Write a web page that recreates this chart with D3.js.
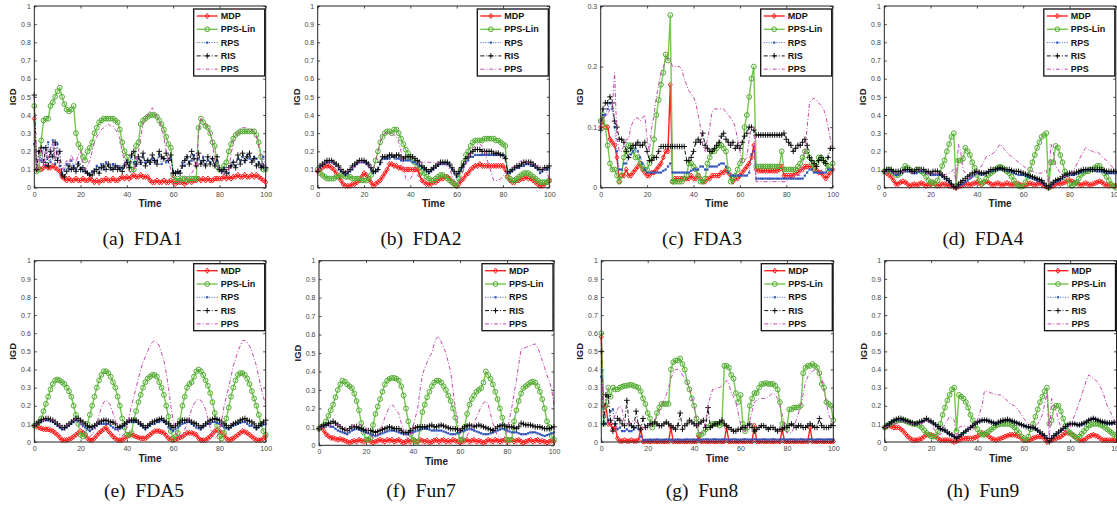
<!DOCTYPE html>
<html><head><meta charset="utf-8">
<script src="https://cdn.jsdelivr.net/npm/d3@7"></script>
<style>
html,body{margin:0;padding:0;background:#fff;}
svg{display:block;}
.cap{font-family:"Liberation Serif","Times New Roman","DejaVu Serif",serif;font-size:19.5px;fill:#111;white-space:pre;}
</style></head><body>
<svg id="chart" width="1117" height="508"></svg>
<script>
// ---------------- DATA ----------------
const seriesNames = ["MDP","PPS-Lin","RPS","RIS","PPS"];
const xTicks = [0,20,40,60,80,100];
const yTicksFull = [0,0.1,0.2,0.3,0.4,0.5,0.6,0.7,0.8,0.9,1];
const yTicksSmall = [0,0.1,0.2,0.3];
const captions = ["(a)  FDA1","(b)  FDA2","(c)  FDA3","(d)  FDA4","(e)  FDA5","(f)  Fun7","(g)  Fun8","(h)  Fun9"];

// FDA1
const fda1_MDP=[0.38,0.10,0.11,0.10,0.11,0.12,0.11,0.11,0.12,0.11,0.10,0.09,0.06,0.05,0.04,0.05,0.04,0.04,0.05,0.04,0.04,0.05,0.04,0.04,0.05,0.04,0.03,0.04,0.03,0.04,0.04,0.05,0.04,0.04,0.05,0.04,0.04,0.05,0.06,0.05,0.06,0.05,0.06,0.07,0.06,0.06,0.07,0.06,0.06,0.06,0.04,0.03,0.03,0.04,0.03,0.03,0.04,0.03,0.03,0.04,0.03,0.02,0.03,0.03,0.03,0.02,0.03,0.04,0.03,0.04,0.04,0.05,0.04,0.05,0.04,0.05,0.04,0.04,0.05,0.05,0.05,0.05,0.06,0.05,0.06,0.05,0.06,0.06,0.07,0.06,0.06,0.07,0.06,0.06,0.07,0.06,0.07,0.06,0.05,0.04,0.03];
const fda1_PPSLin=[0.45,0.09,0.10,0.26,0.37,0.38,0.38,0.45,0.47,0.50,0.53,0.55,0.50,0.46,0.43,0.42,0.43,0.45,0.30,0.24,0.22,0.17,0.15,0.20,0.22,0.25,0.30,0.33,0.36,0.37,0.38,0.38,0.38,0.38,0.38,0.37,0.36,0.32,0.25,0.20,0.17,0.14,0.10,0.10,0.23,0.25,0.35,0.37,0.38,0.39,0.40,0.40,0.40,0.39,0.37,0.35,0.32,0.28,0.24,0.22,0.07,0.04,0.05,0.04,0.05,0.05,0.04,0.05,0.05,0.05,0.05,0.33,0.38,0.36,0.34,0.33,0.30,0.25,0.23,0.12,0.10,0.10,0.12,0.14,0.20,0.24,0.27,0.29,0.30,0.31,0.31,0.31,0.31,0.31,0.31,0.31,0.29,0.25,0.17,0.10,0.10];
const fda1_RPS=[0.24,0.10,0.20,0.15,0.22,0.12,0.25,0.14,0.26,0.13,0.24,0.12,0.08,0.10,0.13,0.10,0.15,0.12,0.10,0.14,0.11,0.09,0.10,0.08,0.07,0.09,0.10,0.12,0.11,0.13,0.10,0.14,0.12,0.10,0.13,0.11,0.12,0.10,0.11,0.13,0.15,0.12,0.17,0.14,0.12,0.16,0.13,0.17,0.14,0.15,0.13,0.16,0.14,0.15,0.18,0.13,0.16,0.14,0.15,0.16,0.09,0.08,0.08,0.09,0.14,0.12,0.17,0.14,0.15,0.18,0.12,0.16,0.14,0.17,0.13,0.15,0.14,0.16,0.13,0.15,0.10,0.09,0.11,0.09,0.08,0.12,0.14,0.12,0.16,0.15,0.17,0.14,0.18,0.16,0.15,0.17,0.16,0.14,0.12,0.17,0.10];
const fda1_RIS=[0.51,0.10,0.20,0.22,0.14,0.22,0.12,0.20,0.17,0.25,0.15,0.20,0.07,0.06,0.09,0.12,0.10,0.11,0.09,0.13,0.10,0.11,0.09,0.08,0.07,0.07,0.09,0.10,0.08,0.11,0.12,0.10,0.13,0.11,0.10,0.12,0.10,0.11,0.09,0.12,0.14,0.11,0.18,0.20,0.13,0.17,0.14,0.19,0.12,0.15,0.14,0.18,0.15,0.13,0.20,0.17,0.16,0.19,0.15,0.18,0.08,0.08,0.09,0.08,0.12,0.15,0.17,0.13,0.20,0.16,0.12,0.19,0.13,0.15,0.12,0.17,0.13,0.16,0.12,0.17,0.10,0.09,0.10,0.08,0.11,0.12,0.14,0.11,0.18,0.13,0.19,0.15,0.17,0.19,0.14,0.16,0.12,0.13,0.11,0.12,0.11];
const fda1_PPS=[0.50,0.10,0.15,0.22,0.12,0.20,0.16,0.22,0.25,0.15,0.20,0.12,0.10,0.12,0.15,0.13,0.18,0.15,0.14,0.18,0.20,0.12,0.10,0.12,0.15,0.20,0.25,0.28,0.30,0.32,0.33,0.34,0.35,0.34,0.34,0.32,0.30,0.27,0.20,0.14,0.10,0.09,0.08,0.09,0.15,0.20,0.28,0.35,0.38,0.40,0.42,0.44,0.41,0.39,0.37,0.33,0.28,0.20,0.15,0.10,0.05,0.04,0.03,0.03,0.04,0.05,0.06,0.07,0.08,0.10,0.12,0.30,0.38,0.36,0.35,0.34,0.30,0.25,0.15,0.12,0.10,0.08,0.07,0.08,0.10,0.18,0.25,0.28,0.30,0.32,0.33,0.33,0.33,0.32,0.32,0.30,0.28,0.22,0.15,0.12,0.10];

// FDA2
const fda2_MDP=[0.09,0.10,0.11,0.12,0.12,0.12,0.11,0.10,0.08,0.06,0.04,0.02,0.01,0.01,0.01,0.02,0.02,0.03,0.04,0.06,0.08,0.07,0.05,0.03,0.01,0.02,0.03,0.04,0.06,0.08,0.10,0.13,0.13,0.12,0.12,0.11,0.11,0.10,0.10,0.10,0.10,0.10,0.10,0.10,0.07,0.04,0.03,0.02,0.02,0.02,0.03,0.03,0.04,0.05,0.05,0.06,0.06,0.05,0.03,0.02,0.01,0.02,0.04,0.05,0.07,0.08,0.10,0.11,0.12,0.12,0.13,0.12,0.12,0.12,0.12,0.12,0.12,0.12,0.12,0.12,0.12,0.10,0.06,0.04,0.03,0.03,0.04,0.04,0.05,0.05,0.06,0.05,0.05,0.04,0.03,0.02,0.01,0.01,0.02,0.03,0.04];
const fda2_PPSLin=[0.10,0.08,0.07,0.06,0.05,0.05,0.05,0.05,0.06,0.06,0.07,0.07,0.06,0.06,0.06,0.05,0.05,0.05,0.05,0.04,0.04,0.04,0.05,0.07,0.10,0.15,0.20,0.25,0.28,0.30,0.31,0.31,0.30,0.32,0.32,0.30,0.27,0.24,0.21,0.19,0.17,0.15,0.14,0.12,0.11,0.09,0.08,0.06,0.05,0.04,0.04,0.05,0.06,0.07,0.07,0.06,0.05,0.04,0.03,0.02,0.01,0.05,0.10,0.14,0.18,0.20,0.23,0.25,0.26,0.26,0.26,0.26,0.27,0.27,0.27,0.27,0.27,0.26,0.26,0.25,0.24,0.23,0.06,0.05,0.04,0.04,0.05,0.06,0.07,0.08,0.08,0.08,0.07,0.06,0.05,0.04,0.03,0.03,0.03,0.03,0.04];
const fda2_RPS=[0.09,0.11,0.12,0.13,0.14,0.14,0.14,0.13,0.12,0.10,0.09,0.08,0.07,0.08,0.09,0.10,0.12,0.13,0.14,0.14,0.14,0.13,0.12,0.10,0.08,0.09,0.10,0.13,0.16,0.16,0.16,0.16,0.17,0.17,0.16,0.16,0.15,0.15,0.15,0.15,0.15,0.14,0.14,0.13,0.12,0.11,0.10,0.09,0.08,0.09,0.10,0.11,0.12,0.13,0.13,0.13,0.13,0.12,0.10,0.08,0.06,0.08,0.10,0.12,0.14,0.15,0.17,0.17,0.18,0.18,0.18,0.18,0.18,0.18,0.18,0.18,0.18,0.18,0.18,0.18,0.18,0.17,0.08,0.08,0.09,0.10,0.11,0.11,0.12,0.12,0.13,0.13,0.12,0.12,0.11,0.10,0.08,0.09,0.10,0.10,0.11];
const fda2_RIS=[0.09,0.12,0.13,0.14,0.15,0.15,0.15,0.14,0.13,0.12,0.10,0.09,0.08,0.09,0.10,0.12,0.13,0.14,0.15,0.15,0.15,0.14,0.13,0.11,0.09,0.09,0.10,0.14,0.17,0.17,0.17,0.18,0.18,0.17,0.18,0.18,0.17,0.16,0.17,0.17,0.17,0.17,0.16,0.15,0.14,0.12,0.11,0.10,0.09,0.10,0.11,0.12,0.13,0.14,0.14,0.14,0.14,0.13,0.11,0.09,0.07,0.09,0.11,0.13,0.16,0.17,0.19,0.20,0.21,0.21,0.21,0.20,0.20,0.20,0.20,0.20,0.19,0.19,0.19,0.18,0.18,0.16,0.09,0.09,0.10,0.11,0.12,0.12,0.13,0.14,0.14,0.14,0.14,0.13,0.12,0.11,0.10,0.10,0.11,0.11,0.12];
const fda2_PPS=[0.09,0.11,0.13,0.14,0.14,0.14,0.14,0.13,0.12,0.11,0.10,0.09,0.08,0.09,0.10,0.11,0.11,0.12,0.14,0.14,0.14,0.13,0.12,0.11,0.10,0.14,0.20,0.25,0.29,0.30,0.30,0.30,0.30,0.29,0.28,0.25,0.20,0.12,0.05,0.04,0.05,0.07,0.10,0.12,0.14,0.14,0.14,0.14,0.14,0.14,0.14,0.14,0.14,0.13,0.13,0.13,0.12,0.10,0.07,0.04,0.02,0.03,0.06,0.10,0.13,0.16,0.20,0.22,0.23,0.24,0.24,0.23,0.20,0.16,0.12,0.08,0.04,0.04,0.04,0.05,0.06,0.08,0.10,0.10,0.11,0.12,0.13,0.14,0.15,0.15,0.14,0.14,0.13,0.13,0.12,0.12,0.12,0.11,0.10,0.08,0.05];

// FDA3
const fda3_MDP=[0.10,0.11,0.10,0.10,0.08,0.075,0.07,0.05,0.01,0.02,0.02,0.03,0.02,0.02,0.025,0.03,0.035,0.04,0.03,0.025,0.02,0.02,0.025,0.025,0.03,0.035,0.04,0.05,0.06,0.06,0.17,0.01,0.015,0.015,0.015,0.015,0.015,0.015,0.015,0.02,0.015,0.015,0.02,0.015,0.01,0.01,0.015,0.015,0.02,0.02,0.02,0.02,0.025,0.025,0.03,0.025,0.02,0.01,0.015,0.015,0.02,0.025,0.03,0.035,0.04,0.05,0.07,0.03,0.028,0.028,0.028,0.028,0.028,0.028,0.028,0.028,0.028,0.03,0.035,0.02,0.02,0.02,0.02,0.02,0.025,0.025,0.03,0.03,0.035,0.035,0.035,0.035,0.03,0.03,0.025,0.025,0.02,0.015,0.02,0.025,0.03];
const fda3_PPSLin=[0.11,0.12,0.10,0.07,0.04,0.03,0.03,0.02,0.01,0.02,0.05,0.06,0.07,0.07,0.06,0.05,0.05,0.04,0.035,0.03,0.03,0.04,0.05,0.08,0.12,0.145,0.17,0.19,0.22,0.21,0.285,0.01,0.01,0.01,0.01,0.01,0.015,0.02,0.04,0.04,0.035,0.03,0.02,0.01,0.01,0.015,0.04,0.05,0.06,0.06,0.065,0.07,0.07,0.065,0.06,0.03,0.01,0.015,0.02,0.03,0.04,0.045,0.10,0.12,0.15,0.18,0.20,0.035,0.035,0.035,0.035,0.035,0.035,0.035,0.035,0.035,0.035,0.035,0.06,0.03,0.03,0.03,0.03,0.03,0.03,0.035,0.04,0.05,0.06,0.06,0.05,0.04,0.03,0.04,0.05,0.05,0.045,0.04,0.03,0.035,0.04];
const fda3_RPS=[0.11,0.12,0.12,0.13,0.14,0.13,0.10,0.06,0.03,0.03,0.04,0.04,0.05,0.055,0.06,0.065,0.06,0.05,0.04,0.03,0.025,0.025,0.025,0.025,0.025,0.025,0.025,0.028,0.03,0.035,0.04,0.025,0.025,0.025,0.025,0.025,0.025,0.025,0.025,0.028,0.03,0.03,0.03,0.035,0.035,0.03,0.03,0.035,0.035,0.035,0.035,0.038,0.04,0.04,0.035,0.025,0.02,0.02,0.02,0.02,0.02,0.02,0.02,0.02,0.025,0.055,0.06,0.015,0.015,0.015,0.015,0.015,0.015,0.015,0.015,0.015,0.015,0.015,0.015,0.015,0.015,0.015,0.015,0.015,0.015,0.015,0.015,0.015,0.02,0.025,0.03,0.03,0.025,0.025,0.025,0.025,0.025,0.025,0.03,0.03,0.03];
const fda3_RIS=[0.095,0.13,0.14,0.14,0.15,0.14,0.11,0.10,0.08,0.08,0.075,0.06,0.05,0.065,0.07,0.07,0.075,0.07,0.07,0.075,0.06,0.045,0.045,0.05,0.05,0.06,0.068,0.068,0.068,0.068,0.068,0.068,0.068,0.068,0.068,0.068,0.068,0.045,0.045,0.05,0.06,0.075,0.08,0.075,0.09,0.07,0.065,0.06,0.06,0.065,0.07,0.075,0.085,0.09,0.08,0.075,0.07,0.075,0.065,0.07,0.065,0.075,0.085,0.09,0.10,0.10,0.095,0.087,0.087,0.087,0.087,0.087,0.087,0.087,0.087,0.087,0.087,0.087,0.087,0.09,0.08,0.075,0.07,0.06,0.065,0.07,0.07,0.075,0.08,0.07,0.05,0.045,0.04,0.035,0.045,0.05,0.045,0.04,0.05,0.065,0.065];
const fda3_PPS=[0.10,0.11,0.12,0.12,0.13,0.13,0.19,0.08,0.06,0.06,0.07,0.08,0.08,0.10,0.11,0.115,0.115,0.11,0.115,0.12,0.08,0.06,0.10,0.12,0.15,0.17,0.19,0.20,0.21,0.215,0.21,0.20,0.20,0.20,0.20,0.195,0.18,0.17,0.16,0.155,0.15,0.14,0.12,0.10,0.07,0.06,0.08,0.10,0.125,0.13,0.13,0.13,0.13,0.13,0.125,0.12,0.115,0.11,0.10,0.08,0.06,0.04,0.045,0.05,0.08,0.10,0.10,0.01,0.01,0.01,0.01,0.01,0.01,0.01,0.01,0.01,0.01,0.01,0.01,0.01,0.01,0.015,0.02,0.02,0.02,0.02,0.02,0.04,0.06,0.10,0.14,0.145,0.148,0.145,0.14,0.135,0.13,0.12,0.10,0.08,0.065];

// FDA4
const fda4_MDP=[0.09,0.08,0.07,0.06,0.04,0.02,0.02,0.03,0.035,0.03,0.02,0.01,0.015,0.02,0.015,0.02,0.025,0.02,0.01,0.015,0.02,0.025,0.02,0.01,0.015,0.02,0.02,0.015,0.01,0.01,0.005,0.0,0.005,0.01,0.015,0.02,0.02,0.015,0.02,0.025,0.03,0.025,0.02,0.03,0.035,0.03,0.02,0.015,0.02,0.025,0.02,0.015,0.02,0.025,0.02,0.015,0.02,0.025,0.02,0.015,0.01,0.015,0.02,0.025,0.02,0.015,0.02,0.025,0.02,0.01,0.005,0.0,0.005,0.01,0.02,0.025,0.02,0.025,0.03,0.035,0.04,0.035,0.03,0.025,0.02,0.015,0.02,0.025,0.02,0.015,0.02,0.025,0.03,0.035,0.03,0.02,0.015,0.01,0.015,0.01,0.01];
const fda4_PPSLin=[0.09,0.09,0.10,0.09,0.08,0.07,0.07,0.08,0.10,0.12,0.11,0.10,0.09,0.09,0.10,0.10,0.09,0.08,0.06,0.04,0.03,0.03,0.02,0.04,0.08,0.12,0.15,0.20,0.24,0.28,0.30,0.01,0.15,0.15,0.16,0.22,0.20,0.18,0.14,0.11,0.07,0.04,0.02,0.03,0.05,0.07,0.08,0.09,0.10,0.11,0.115,0.11,0.10,0.09,0.08,0.06,0.04,0.02,0.01,0.005,0.01,0.03,0.06,0.10,0.14,0.18,0.22,0.25,0.28,0.29,0.30,0.0,0.14,0.14,0.23,0.22,0.18,0.14,0.09,0.05,0.02,0.01,0.02,0.03,0.05,0.07,0.08,0.09,0.09,0.10,0.10,0.11,0.12,0.12,0.10,0.08,0.06,0.04,0.02,0.01,0.0];
const fda4_RPS=[0.08,0.09,0.10,0.09,0.08,0.07,0.07,0.08,0.09,0.09,0.09,0.09,0.08,0.08,0.08,0.09,0.09,0.09,0.08,0.08,0.07,0.07,0.07,0.07,0.07,0.06,0.05,0.04,0.03,0.02,0.005,0.0,0.01,0.015,0.02,0.03,0.04,0.05,0.06,0.07,0.08,0.075,0.07,0.075,0.08,0.085,0.09,0.095,0.10,0.10,0.10,0.10,0.10,0.095,0.09,0.085,0.08,0.075,0.07,0.07,0.07,0.065,0.06,0.055,0.05,0.045,0.04,0.035,0.03,0.02,0.01,0.0,0.01,0.02,0.03,0.035,0.04,0.05,0.06,0.065,0.07,0.07,0.07,0.075,0.08,0.085,0.09,0.095,0.10,0.10,0.10,0.095,0.09,0.09,0.09,0.085,0.08,0.08,0.08,0.08,0.08];
const fda4_RIS=[0.09,0.10,0.10,0.10,0.09,0.09,0.09,0.09,0.09,0.10,0.10,0.10,0.09,0.09,0.10,0.10,0.10,0.10,0.09,0.09,0.08,0.09,0.09,0.09,0.08,0.07,0.06,0.05,0.04,0.02,0.005,0.0,0.02,0.03,0.04,0.05,0.06,0.07,0.08,0.085,0.09,0.085,0.08,0.08,0.08,0.09,0.10,0.10,0.10,0.105,0.11,0.105,0.10,0.10,0.10,0.095,0.09,0.09,0.09,0.085,0.08,0.075,0.07,0.065,0.06,0.055,0.05,0.045,0.04,0.025,0.01,0.0,0.02,0.03,0.04,0.045,0.05,0.06,0.07,0.075,0.08,0.08,0.08,0.085,0.09,0.095,0.10,0.10,0.10,0.10,0.10,0.10,0.10,0.10,0.10,0.095,0.09,0.09,0.09,0.09,0.09];
const fda4_PPS=[0.08,0.085,0.09,0.085,0.08,0.08,0.08,0.085,0.09,0.09,0.09,0.085,0.08,0.085,0.09,0.095,0.10,0.09,0.08,0.075,0.07,0.075,0.08,0.08,0.08,0.075,0.07,0.075,0.08,0.09,0.10,0.03,0.24,0.20,0.10,0.08,0.06,0.055,0.05,0.065,0.08,0.10,0.12,0.145,0.17,0.175,0.18,0.19,0.20,0.22,0.24,0.225,0.21,0.195,0.18,0.17,0.16,0.15,0.14,0.13,0.12,0.11,0.10,0.095,0.09,0.085,0.08,0.08,0.08,0.09,0.10,0.02,0.24,0.20,0.12,0.10,0.08,0.07,0.06,0.06,0.06,0.08,0.10,0.125,0.15,0.175,0.20,0.22,0.21,0.205,0.20,0.19,0.20,0.185,0.17,0.16,0.15,0.135,0.12,0.11,0.10];

// FDA5
const fda5_MDP=[0.09,0.085,0.08,0.075,0.07,0.07,0.07,0.065,0.06,0.05,0.04,0.025,0.01,0.01,0.01,0.015,0.02,0.03,0.04,0.05,0.06,0.05,0.04,0.02,0.01,0.01,0.02,0.035,0.05,0.06,0.07,0.08,0.06,0.045,0.03,0.02,0.01,0.01,0.01,0.02,0.03,0.035,0.04,0.035,0.03,0.025,0.02,0.02,0.02,0.03,0.04,0.05,0.06,0.06,0.06,0.055,0.05,0.035,0.02,0.015,0.01,0.015,0.02,0.025,0.03,0.04,0.05,0.05,0.05,0.045,0.04,0.02,0.01,0.01,0.01,0.02,0.03,0.045,0.06,0.065,0.06,0.05,0.04,0.02,0.01,0.015,0.02,0.03,0.04,0.05,0.06,0.055,0.05,0.04,0.03,0.02,0.01,0.01,0.01,0.02,0.03];
const fda5_PPSLin=[0.09,0.10,0.11,0.13,0.17,0.21,0.25,0.29,0.32,0.34,0.345,0.34,0.33,0.32,0.30,0.28,0.25,0.20,0.15,0.10,0.04,0.03,0.04,0.10,0.15,0.20,0.25,0.30,0.34,0.37,0.39,0.39,0.38,0.36,0.33,0.30,0.25,0.20,0.13,0.08,0.04,0.04,0.05,0.12,0.17,0.22,0.26,0.30,0.33,0.35,0.36,0.37,0.37,0.36,0.33,0.30,0.26,0.20,0.14,0.06,0.02,0.03,0.05,0.12,0.20,0.25,0.30,0.32,0.33,0.36,0.39,0.40,0.39,0.37,0.34,0.31,0.27,0.22,0.16,0.09,0.03,0.02,0.05,0.13,0.19,0.25,0.30,0.34,0.37,0.38,0.38,0.37,0.35,0.32,0.28,0.24,0.20,0.15,0.10,0.06,0.04];
const fda5_RPS=[0.09,0.10,0.11,0.11,0.12,0.12,0.12,0.115,0.11,0.10,0.09,0.08,0.07,0.07,0.08,0.09,0.10,0.11,0.12,0.115,0.10,0.09,0.08,0.07,0.06,0.07,0.08,0.09,0.10,0.10,0.10,0.10,0.10,0.09,0.08,0.07,0.07,0.075,0.08,0.09,0.10,0.11,0.11,0.11,0.11,0.10,0.09,0.08,0.07,0.08,0.09,0.10,0.10,0.11,0.11,0.12,0.11,0.10,0.08,0.07,0.06,0.07,0.08,0.09,0.10,0.105,0.11,0.11,0.10,0.09,0.08,0.075,0.07,0.08,0.09,0.10,0.10,0.11,0.11,0.105,0.10,0.09,0.08,0.075,0.07,0.08,0.09,0.095,0.10,0.105,0.11,0.11,0.10,0.09,0.09,0.08,0.07,0.08,0.09,0.095,0.10];
const fda5_RIS=[0.09,0.10,0.11,0.12,0.125,0.13,0.13,0.125,0.12,0.11,0.10,0.09,0.08,0.08,0.09,0.10,0.11,0.12,0.13,0.13,0.12,0.11,0.10,0.09,0.08,0.085,0.09,0.10,0.11,0.115,0.12,0.12,0.115,0.11,0.11,0.10,0.08,0.085,0.09,0.10,0.11,0.12,0.12,0.12,0.12,0.11,0.10,0.09,0.08,0.09,0.10,0.11,0.115,0.12,0.125,0.13,0.12,0.11,0.10,0.09,0.08,0.09,0.10,0.11,0.12,0.12,0.12,0.12,0.11,0.105,0.10,0.09,0.08,0.09,0.10,0.11,0.12,0.125,0.13,0.125,0.12,0.11,0.10,0.09,0.08,0.09,0.10,0.105,0.11,0.12,0.125,0.13,0.12,0.115,0.11,0.10,0.08,0.09,0.10,0.11,0.12];
const fda5_PPS=[0.09,0.10,0.11,0.115,0.12,0.125,0.13,0.125,0.12,0.11,0.10,0.09,0.08,0.085,0.09,0.10,0.11,0.12,0.13,0.12,0.10,0.07,0.05,0.04,0.03,0.04,0.06,0.10,0.15,0.19,0.22,0.23,0.22,0.20,0.16,0.12,0.07,0.04,0.03,0.05,0.08,0.14,0.20,0.25,0.30,0.35,0.40,0.44,0.47,0.50,0.53,0.55,0.56,0.55,0.53,0.49,0.45,0.38,0.30,0.20,0.12,0.06,0.02,0.03,0.04,0.07,0.10,0.14,0.18,0.21,0.23,0.235,0.23,0.21,0.18,0.13,0.08,0.04,0.02,0.03,0.06,0.12,0.20,0.25,0.30,0.36,0.42,0.46,0.50,0.53,0.56,0.56,0.55,0.53,0.50,0.46,0.42,0.36,0.30,0.25,0.20];

// Fun7
const fun7_MDP=[0.09,0.10,0.08,0.06,0.05,0.04,0.04,0.035,0.03,0.035,0.03,0.025,0.02,0.015,0.02,0.025,0.02,0.03,0.025,0.02,0.025,0.03,0.02,0.015,0.02,0.025,0.03,0.025,0.02,0.03,0.025,0.03,0.02,0.025,0.03,0.02,0.015,0.02,0.025,0.02,0.03,0.025,0.02,0.03,0.025,0.02,0.025,0.015,0.02,0.025,0.03,0.02,0.025,0.03,0.02,0.025,0.02,0.03,0.025,0.02,0.015,0.02,0.025,0.03,0.02,0.025,0.03,0.02,0.025,0.02,0.015,0.02,0.03,0.025,0.02,0.03,0.025,0.02,0.025,0.03,0.02,0.025,0.03,0.02,0.025,0.03,0.02,0.015,0.02,0.025,0.03,0.02,0.025,0.03,0.02,0.025,0.02,0.015,0.02,0.025,0.02];
const fun7_PPSLin=[0.09,0.10,0.11,0.13,0.16,0.19,0.22,0.26,0.30,0.33,0.35,0.345,0.33,0.32,0.31,0.28,0.24,0.19,0.12,0.07,0.03,0.03,0.04,0.11,0.17,0.21,0.25,0.29,0.33,0.35,0.36,0.365,0.365,0.36,0.35,0.32,0.27,0.20,0.13,0.06,0.03,0.02,0.02,0.09,0.18,0.22,0.26,0.29,0.32,0.34,0.35,0.35,0.34,0.32,0.30,0.27,0.24,0.20,0.15,0.08,0.03,0.03,0.10,0.17,0.22,0.25,0.27,0.29,0.30,0.31,0.34,0.40,0.38,0.36,0.33,0.29,0.25,0.20,0.15,0.10,0.03,0.03,0.03,0.13,0.19,0.24,0.28,0.31,0.32,0.33,0.34,0.345,0.34,0.32,0.29,0.25,0.20,0.13,0.10,0.05,0.03];
const fun7_RPS=[0.09,0.10,0.10,0.11,0.11,0.10,0.10,0.09,0.08,0.075,0.07,0.065,0.06,0.07,0.08,0.085,0.09,0.085,0.08,0.075,0.07,0.065,0.06,0.055,0.05,0.055,0.06,0.065,0.07,0.075,0.08,0.08,0.08,0.075,0.07,0.065,0.06,0.06,0.06,0.065,0.07,0.075,0.08,0.085,0.09,0.09,0.09,0.085,0.08,0.08,0.08,0.08,0.08,0.075,0.07,0.065,0.06,0.06,0.06,0.065,0.07,0.075,0.08,0.085,0.09,0.085,0.08,0.075,0.07,0.065,0.06,0.06,0.06,0.065,0.07,0.075,0.08,0.085,0.09,0.085,0.08,0.075,0.07,0.07,0.07,0.065,0.06,0.06,0.06,0.065,0.07,0.07,0.07,0.065,0.06,0.055,0.05,0.055,0.06,0.065,0.07];
const fun7_RIS=[0.09,0.10,0.11,0.11,0.12,0.12,0.13,0.12,0.11,0.10,0.09,0.085,0.08,0.09,0.10,0.10,0.10,0.095,0.09,0.085,0.08,0.08,0.08,0.075,0.07,0.075,0.08,0.085,0.09,0.095,0.10,0.095,0.09,0.09,0.09,0.08,0.07,0.07,0.07,0.08,0.09,0.095,0.10,0.10,0.10,0.10,0.10,0.105,0.11,0.10,0.10,0.105,0.11,0.105,0.10,0.095,0.09,0.09,0.09,0.085,0.08,0.09,0.10,0.105,0.11,0.105,0.10,0.105,0.11,0.105,0.10,0.095,0.09,0.085,0.08,0.09,0.10,0.105,0.11,0.105,0.10,0.10,0.10,0.095,0.09,0.10,0.12,0.115,0.11,0.11,0.11,0.105,0.10,0.10,0.10,0.095,0.09,0.09,0.09,0.095,0.10];
const fun7_PPS=[0.09,0.095,0.10,0.10,0.10,0.105,0.11,0.11,0.11,0.105,0.10,0.09,0.08,0.09,0.10,0.11,0.12,0.115,0.11,0.105,0.10,0.07,0.05,0.04,0.03,0.05,0.08,0.11,0.15,0.18,0.21,0.22,0.21,0.19,0.17,0.12,0.08,0.05,0.03,0.06,0.10,0.15,0.20,0.30,0.38,0.42,0.45,0.48,0.50,0.55,0.58,0.59,0.56,0.53,0.50,0.45,0.40,0.30,0.20,0.12,0.05,0.04,0.03,0.05,0.08,0.10,0.12,0.15,0.18,0.21,0.23,0.24,0.22,0.17,0.12,0.08,0.05,0.04,0.03,0.05,0.07,0.14,0.20,0.28,0.35,0.44,0.52,0.525,0.53,0.535,0.54,0.545,0.55,0.53,0.50,0.46,0.42,0.38,0.35,0.30,0.22];

// Fun8
const fun8_MDP=[0.58,0.20,0.20,0.10,0.10,0.07,0.08,0.02,0.005,0.005,0.01,0.005,0.005,0.01,0.005,0.005,0.01,0.07,0.003,0.003,0.003,0.003,0.003,0.003,0.003,0.003,0.003,0.003,0.003,0.003,0.08,0.003,0.003,0.003,0.003,0.003,0.003,0.003,0.003,0.003,0.003,0.003,0.03,0.003,0.003,0.003,0.003,0.003,0.003,0.003,0.003,0.003,0.003,0.003,0.08,0.003,0.003,0.003,0.003,0.003,0.003,0.003,0.003,0.003,0.003,0.003,0.09,0.003,0.003,0.003,0.003,0.003,0.003,0.003,0.003,0.003,0.003,0.003,0.07,0.003,0.003,0.003,0.003,0.003,0.003,0.003,0.003,0.003,0.003,0.003,0.08,0.003,0.003,0.003,0.003,0.003,0.003,0.003,0.003,0.003,0.003];
const fun8_PPSLin=[0.60,0.10,0.20,0.30,0.25,0.30,0.29,0.29,0.30,0.305,0.31,0.31,0.315,0.315,0.31,0.305,0.30,0.28,0.24,0.21,0.16,0.13,0.08,0.10,0.16,0.19,0.21,0.21,0.21,0.21,0.40,0.44,0.45,0.45,0.46,0.43,0.40,0.33,0.29,0.24,0.20,0.13,0.04,0.04,0.05,0.07,0.08,0.09,0.10,0.10,0.10,0.09,0.10,0.42,0.42,0.41,0.37,0.35,0.27,0.22,0.26,0.10,0.06,0.08,0.20,0.24,0.27,0.27,0.30,0.32,0.32,0.325,0.32,0.32,0.32,0.31,0.29,0.22,0.10,0.09,0.07,0.18,0.18,0.19,0.19,0.19,0.20,0.38,0.41,0.42,0.42,0.43,0.42,0.41,0.38,0.32,0.30,0.22,0.21,0.20,0.12];
const fun8_RPS=[0.36,0.10,0.10,0.12,0.17,0.18,0.10,0.07,0.08,0.06,0.06,0.07,0.06,0.06,0.07,0.08,0.07,0.03,0.01,0.012,0.012,0.013,0.012,0.013,0.014,0.013,0.012,0.013,0.014,0.013,0.013,0.012,0.013,0.014,0.013,0.012,0.013,0.014,0.013,0.013,0.014,0.013,0.012,0.013,0.014,0.015,0.014,0.013,0.014,0.015,0.014,0.013,0.014,0.015,0.014,0.013,0.014,0.015,0.014,0.013,0.013,0.014,0.015,0.014,0.013,0.014,0.015,0.014,0.013,0.014,0.015,0.014,0.013,0.014,0.015,0.014,0.013,0.014,0.015,0.014,0.013,0.014,0.015,0.014,0.013,0.014,0.015,0.014,0.013,0.014,0.015,0.014,0.013,0.014,0.015,0.014,0.013,0.014,0.015,0.014,0.014];
const fun8_RIS=[0.50,0.10,0.26,0.25,0.12,0.06,0.10,0.13,0.12,0.10,0.09,0.23,0.10,0.09,0.08,0.17,0.09,0.07,0.13,0.08,0.09,0.10,0.10,0.11,0.10,0.09,0.09,0.10,0.11,0.10,0.09,0.08,0.07,0.09,0.16,0.07,0.09,0.10,0.12,0.11,0.10,0.09,0.10,0.11,0.12,0.08,0.19,0.08,0.09,0.10,0.10,0.11,0.12,0.10,0.09,0.08,0.07,0.06,0.06,0.07,0.07,0.08,0.08,0.09,0.10,0.08,0.06,0.07,0.08,0.09,0.09,0.08,0.07,0.08,0.08,0.07,0.06,0.07,0.07,0.08,0.08,0.09,0.10,0.09,0.08,0.09,0.09,0.08,0.08,0.09,0.10,0.09,0.08,0.08,0.13,0.09,0.08,0.08,0.08,0.09,0.09];
const fun8_PPS=[0.40,0.20,0.12,0.11,0.10,0.12,0.15,0.18,0.20,0.18,0.10,0.10,0.10,0.11,0.12,0.11,0.10,0.09,0.08,0.075,0.07,0.08,0.10,0.12,0.14,0.17,0.20,0.23,0.26,0.30,0.35,0.38,0.40,0.40,0.39,0.37,0.35,0.33,0.30,0.25,0.20,0.12,0.05,0.05,0.06,0.12,0.20,0.25,0.29,0.29,0.30,0.30,0.31,0.32,0.34,0.32,0.27,0.25,0.22,0.16,0.10,0.07,0.05,0.08,0.12,0.17,0.22,0.23,0.24,0.24,0.24,0.24,0.25,0.26,0.27,0.26,0.24,0.20,0.15,0.10,0.05,0.05,0.05,0.08,0.12,0.16,0.20,0.26,0.33,0.36,0.38,0.39,0.40,0.40,0.38,0.35,0.28,0.22,0.15,0.12,0.10];

// Fun9
const fun9_MDP=[0.08,0.085,0.09,0.085,0.08,0.08,0.08,0.07,0.06,0.045,0.03,0.02,0.01,0.01,0.01,0.015,0.02,0.03,0.04,0.04,0.04,0.035,0.03,0.02,0.01,0.01,0.01,0.01,0.01,0.005,0.0,0.005,0.01,0.015,0.02,0.02,0.02,0.02,0.02,0.025,0.03,0.04,0.05,0.045,0.04,0.03,0.02,0.015,0.01,0.015,0.02,0.025,0.03,0.035,0.04,0.04,0.04,0.035,0.03,0.02,0.01,0.01,0.01,0.015,0.02,0.025,0.03,0.03,0.03,0.015,0.0,0.01,0.01,0.015,0.02,0.025,0.03,0.04,0.05,0.05,0.05,0.04,0.03,0.02,0.01,0.01,0.01,0.02,0.03,0.035,0.04,0.035,0.03,0.02,0.01,0.01,0.01,0.01,0.01,0.01,0.01];
const fun9_PPSLin=[0.08,0.09,0.10,0.105,0.11,0.115,0.12,0.12,0.12,0.115,0.11,0.105,0.10,0.10,0.10,0.09,0.08,0.065,0.05,0.04,0.03,0.03,0.03,0.06,0.10,0.15,0.19,0.23,0.26,0.29,0.30,0.06,0.26,0.25,0.24,0.22,0.19,0.15,0.12,0.09,0.07,0.05,0.04,0.04,0.05,0.06,0.07,0.08,0.09,0.095,0.10,0.10,0.10,0.10,0.10,0.09,0.08,0.065,0.05,0.03,0.02,0.01,0.03,0.07,0.10,0.14,0.18,0.22,0.25,0.28,0.30,0.10,0.12,0.19,0.20,0.20,0.17,0.13,0.09,0.06,0.05,0.04,0.03,0.02,0.03,0.045,0.06,0.075,0.09,0.095,0.10,0.10,0.10,0.095,0.09,0.08,0.07,0.06,0.05,0.04,0.03];
const fun9_RPS=[0.08,0.09,0.10,0.11,0.115,0.12,0.12,0.12,0.12,0.115,0.11,0.105,0.10,0.10,0.10,0.105,0.11,0.115,0.12,0.115,0.11,0.10,0.09,0.08,0.07,0.065,0.06,0.05,0.04,0.035,0.03,0.02,0.03,0.04,0.05,0.06,0.07,0.08,0.09,0.10,0.11,0.115,0.12,0.12,0.12,0.115,0.11,0.105,0.10,0.105,0.11,0.115,0.12,0.12,0.12,0.115,0.11,0.105,0.10,0.095,0.09,0.085,0.08,0.08,0.08,0.07,0.06,0.05,0.04,0.03,0.02,0.0,0.02,0.03,0.04,0.05,0.06,0.07,0.08,0.09,0.10,0.10,0.10,0.095,0.09,0.095,0.10,0.11,0.12,0.125,0.13,0.125,0.12,0.115,0.11,0.105,0.10,0.10,0.10,0.105,0.11];
const fun9_RIS=[0.08,0.09,0.10,0.11,0.12,0.125,0.13,0.13,0.125,0.12,0.115,0.11,0.105,0.10,0.105,0.11,0.115,0.12,0.13,0.12,0.115,0.105,0.095,0.085,0.075,0.07,0.065,0.055,0.045,0.04,0.03,0.02,0.03,0.04,0.05,0.06,0.07,0.08,0.09,0.10,0.11,0.115,0.12,0.12,0.12,0.115,0.11,0.105,0.10,0.11,0.115,0.12,0.12,0.125,0.12,0.115,0.11,0.105,0.10,0.095,0.09,0.085,0.085,0.08,0.08,0.075,0.065,0.055,0.045,0.035,0.02,0.0,0.02,0.035,0.045,0.055,0.065,0.075,0.085,0.095,0.10,0.10,0.10,0.095,0.095,0.10,0.105,0.11,0.12,0.125,0.13,0.125,0.12,0.115,0.11,0.11,0.105,0.105,0.105,0.11,0.11];
const fun9_PPS=[0.08,0.085,0.09,0.095,0.10,0.10,0.105,0.11,0.11,0.11,0.105,0.10,0.10,0.10,0.10,0.10,0.10,0.11,0.12,0.11,0.10,0.08,0.05,0.045,0.04,0.07,0.10,0.12,0.14,0.13,0.12,0.03,0.08,0.085,0.09,0.085,0.08,0.07,0.06,0.09,0.12,0.16,0.20,0.28,0.28,0.275,0.27,0.265,0.26,0.26,0.26,0.25,0.24,0.225,0.21,0.205,0.20,0.185,0.17,0.15,0.13,0.115,0.10,0.09,0.08,0.09,0.10,0.12,0.15,0.21,0.27,0.02,0.24,0.20,0.17,0.12,0.08,0.07,0.06,0.07,0.08,0.115,0.15,0.185,0.22,0.26,0.30,0.34,0.37,0.36,0.35,0.34,0.33,0.305,0.28,0.24,0.20,0.175,0.15,0.125,0.10];

// ---------------- LAYOUT (not data) ----------------
const layout = [
  {x0:34.3, x1:265.7, y0:6, y1:187.7, ymax:1, cx:142.5, cy:245, s:[fda1_MDP,fda1_PPSLin,fda1_RPS,fda1_RIS,fda1_PPS]},
  {x0:317.7,x1:549.3, y0:6, y1:187.7, ymax:1, cx:421, cy:245, s:[fda2_MDP,fda2_PPSLin,fda2_RPS,fda2_RIS,fda2_PPS]},
  {x0:600.7,x1:832.7, y0:6, y1:187.7, ymax:0.3, cx:702, cy:245, s:[fda3_MDP,fda3_PPSLin,fda3_RPS,fda3_RIS,fda3_PPS]},
  {x0:884.3,x1:1115.8,y0:6, y1:187.7, ymax:1, cx:983, cy:245, s:[fda4_MDP,fda4_PPSLin,fda4_RPS,fda4_RIS,fda4_PPS]},
  {x0:34.3, x1:265.7, y0:260.7, y1:442, ymax:1, cx:144, cy:497, s:[fda5_MDP,fda5_PPSLin,fda5_RPS,fda5_RIS,fda5_PPS]},
  {x0:319, x1:554, y0:260.7, y1:445.3, ymax:1, cx:421, cy:497, s:[fun7_MDP,fun7_PPSLin,fun7_RPS,fun7_RIS,fun7_PPS]},
  {x0:601.3,x1:833.3, y0:260.7, y1:442, ymax:1, cx:702, cy:497, s:[fun8_MDP,fun8_PPSLin,fun8_RPS,fun8_RIS,fun8_PPS]},
  {x0:884.7,x1:1116.5,y0:260.7, y1:442, ymax:1, cx:983, cy:497, s:[fun9_MDP,fun9_PPSLin,fun9_RPS,fun9_RIS,fun9_PPS]}
];

const styles = [
  {line:"#ff2020", width:1.4, dash:null, marker:"diamond", mstroke:"#ff1a1a"},
  {line:"#74c850", width:1.4, dash:null, marker:"circle", mstroke:"#52aa32"},
  {line:"#3a5fc8", width:1, dash:"1,1.5", marker:"square", mstroke:"#2f52b8"},
  {line:"#111", width:1, dash:"4,2,1,2", marker:"plus", mstroke:"#000"},
  {line:"#c846b0", width:1, dash:"4,2,1,2", marker:null, mstroke:"#c846b0"}
];

const svg = d3.select("#chart");
const font = '"Liberation Sans",Arial,Helvetica,sans-serif';

function drawMarker(g, type, x, y, col){
  if(type==="diamond"){
    g.append("path").attr("d",`M${x},${y-2.6}L${x+2},${y}L${x},${y+2.6}L${x-2},${y}Z`)
      .attr("fill","none").attr("stroke",col).attr("stroke-width",1);
  } else if(type==="circle"){
    g.append("circle").attr("cx",x).attr("cy",y).attr("r",2.4)
      .attr("fill","none").attr("stroke",col).attr("stroke-width",1);
  } else if(type==="square"){
    g.append("rect").attr("x",x-1.1).attr("y",y-1.1).attr("width",2.2).attr("height",2.2)
      .attr("fill",col);
  } else if(type==="plus"){
    g.append("path").attr("d",`M${x-2.8},${y}H${x+2.8}M${x},${y-2.8}V${y+2.8}`)
      .attr("stroke",col).attr("stroke-width",0.9);
  }
}

layout.forEach((p,pi)=>{
  const g = svg.append("g");
  const x = d3.scaleLinear().domain([0,100]).range([p.x0,p.x1]);
  const y = d3.scaleLinear().domain([0,p.ymax]).range([p.y1,p.y0]);
  const yt = p.ymax===1 ? yTicksFull : yTicksSmall;

  g.append("rect").attr("x",p.x0).attr("y",p.y0).attr("width",p.x1-p.x0).attr("height",p.y1-p.y0).attr("fill","#fff");

  const ax = g.append("g").attr("transform",`translate(0,${p.y1})`)
    .call(d3.axisBottom(x).tickValues(xTicks).tickFormat(d3.format("d")).tickSizeInner(-2.5).tickSizeOuter(0).tickPadding(4));
  const ay = g.append("g").attr("transform",`translate(${p.x0},0)`)
    .call(d3.axisLeft(y).tickValues(yt).tickFormat(d=>d===0?"0":(d===1?"1":d3.format(".1f")(d))).tickSizeInner(-2.5).tickSizeOuter(0).tickPadding(3.5));
  const at = g.append("g").attr("transform",`translate(0,${p.y0})`)
    .call(d3.axisTop(x).tickValues(xTicks).tickFormat("").tickSizeInner(-2.5).tickSizeOuter(0));
  const ar = g.append("g").attr("transform",`translate(${p.x1},0)`)
    .call(d3.axisRight(y).tickValues(yt).tickFormat("").tickSizeInner(-2.5).tickSizeOuter(0));
  [ax,ay,at,ar].forEach(a=>{a.select(".domain").remove(); a.selectAll("line").attr("stroke","#222").attr("stroke-width",0.8);});
  ax.selectAll("text").attr("font-family",font).attr("font-size",7).attr("fill","#444");
  ay.selectAll("text").attr("font-family",font).attr("font-size",7).attr("fill","#444");

  const lineGen = d3.line().x((d,i)=>x(i)).y(d=>y(d));
  p.s.forEach((vals,si)=>{
    const st = styles[si];
    const sg = g.append("g");
    const path = sg.append("path").datum(vals).attr("d",lineGen)
      .attr("fill","none").attr("stroke",st.line).attr("stroke-width",st.width).attr("stroke-linejoin","round");
    if(st.dash) path.attr("stroke-dasharray",st.dash);
    if(st.marker){
      vals.forEach((v,i)=>drawMarker(sg, st.marker, x(i), y(v), st.mstroke));
    }
  });

  g.append("rect").attr("x",p.x0).attr("y",p.y0).attr("width",p.x1-p.x0).attr("height",p.y1-p.y0)
    .attr("fill","none").attr("stroke","#222").attr("stroke-width",1);

  g.append("text").attr("transform",`translate(${p.x0-21.5},${(p.y0+p.y1)/2}) rotate(-90)`)
    .attr("text-anchor","middle").attr("dominant-baseline","central")
    .attr("font-family",font).attr("font-weight","bold").attr("font-size",9.5).attr("fill","#222").text("IGD");
  g.append("text").attr("x",(p.x0+p.x1)/2).attr("y",p.y1+19.5)
    .attr("text-anchor","middle").attr("font-family",font).attr("font-weight","bold").attr("font-size",10).attr("fill","#222").text("Time");

  const lw = 71, lh = 67;
  const lx = p.x1 - 1 - lw, ly = p.y0 + 3;
  const lg = g.append("g");
  lg.append("rect").attr("x",lx).attr("y",ly).attr("width",lw).attr("height",lh)
    .attr("fill","#fff").attr("stroke","#111").attr("stroke-width",1.3);
  seriesNames.forEach((name,si)=>{
    const st = styles[si];
    const ry = ly + 7 + si*13.3;
    const l = lg.append("line").attr("x1",lx+3).attr("x2",lx+24).attr("y1",ry).attr("y2",ry)
      .attr("stroke",st.line).attr("stroke-width",st.width);
    if(st.dash) l.attr("stroke-dasharray",st.dash);
    if(st.marker) drawMarker(lg, st.marker, lx+13.5, ry, st.mstroke);
    lg.append("text").attr("x",lx+27).attr("y",ry).attr("dominant-baseline","central")
      .attr("font-family",font).attr("font-weight","bold").attr("font-size",9).attr("fill","#111").text(name);
  });

  svg.append("text").attr("class","cap").attr("x",p.cx).attr("y",p.cy).attr("text-anchor","middle")
    .text(captions[pi]);
});
</script>
</body></html>
